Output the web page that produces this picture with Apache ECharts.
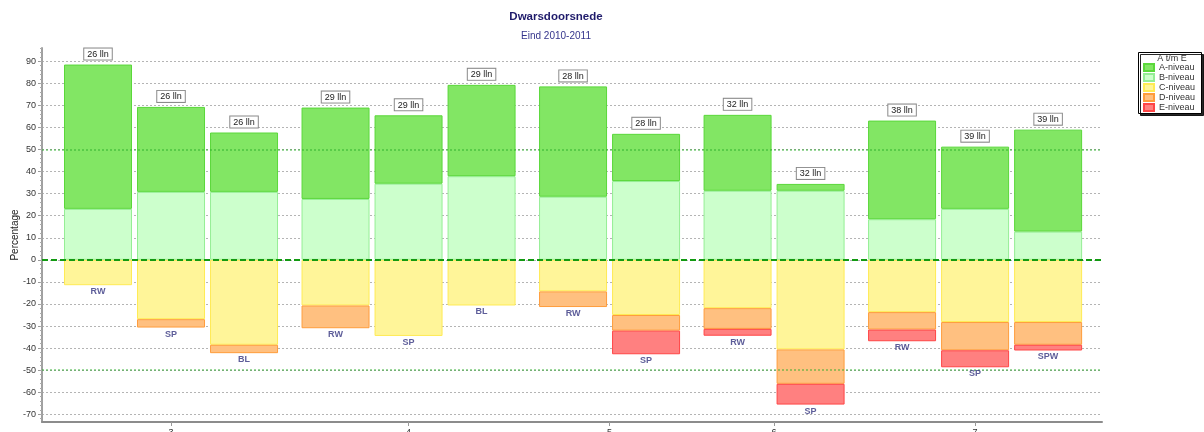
<!DOCTYPE html>
<html>
<head>
<meta charset="utf-8">
<title>Dwarsdoorsnede</title>
<script src="https://cdn.jsdelivr.net/npm/echarts@6/dist/echarts.min.js"></script>
<style>
    html, body { margin: 0; padding: 0; background: #fff; }
    #chart { width: 1204px; height: 432px; }
</style>
</head>
<body>
<div id="chart"></div>
<script>
// groepen op de x-as
var groepen = ['3', '4', '5', '6', '7'];
// per staaf: bij welke groep hij hoort, welk vak, hoeveel leerlingen
var staafGroep = [0, 0, 0, 1, 1, 1, 2, 2, 3, 3, 4, 4, 4];
var staafNaam = ['RW', 'SP', 'BL', 'RW', 'SP', 'BL', 'RW', 'SP', 'RW', 'SP', 'RW', 'SP', 'SPW'];
var aantalLln = ['26 lln', '26 lln', '26 lln', '29 lln', '29 lln', '29 lln', '28 lln', '28 lln',
    '32 lln', '32 lln', '38 lln', '39 lln', '39 lln'];
// percentages per niveau (C, D en E komen onder de nul-lijn)
var niveauA = [65.4, 38.5, 26.9, 41.4, 31.0, 41.4, 50.0, 21.4, 34.4, 3.1, 44.7, 28.2, 46.2];
var niveauB = [23.1, 30.8, 30.8, 27.6, 34.5, 37.9, 28.6, 35.7, 31.3, 31.3, 18.4, 23.1, 12.8];
var niveauC = [11.5, 26.9, 38.5, 20.7, 34.5, 20.7, 14.3, 25.0, 21.9, 40.6, 23.7, 28.2, 28.2];
var niveauD = [0, 3.8, 3.8, 10.3, 0, 0, 7.1, 7.1, 9.4, 15.6, 7.9, 12.8, 10.3];
var niveauE = [0, 0, 0, 0, 0, 0, 0, 10.7, 3.1, 9.4, 5.3, 7.7, 2.6];
// labels op de y-as
var yLabels = [-70, -60, -50, -40, -30, -20, -10, 0, 10, 20, 30, 40, 50, 60, 70, 80, 90];

var FONT = '"Liberation Sans", Arial, sans-serif';
var GROEP_RUIMTE = 0.253; // extra ruimte tussen groepen (in staafbreedtes)

// x-positie van elke staaf
var xPos = [];
for (var i = 0; i < staafGroep.length; i++) {
    xPos.push(i + GROEP_RUIMTE * staafGroep[i]);
}
// midden van elke groep, voor de labels op de x-as
var groepMidden = groepen.map(function (g, gi) {
    var som = 0, n = 0;
    for (var i = 0; i < staafGroep.length; i++) {
        if (staafGroep[i] == gi) { som += xPos[i]; n++; }
    }
    return som / n;
});
var kleineTicks = [];
for (var v = -72; v <= 96; v += 2) kleineTicks.push(v);

// eerst de waarde, dan de x-positie: zo stapelt echarts op de y-waarde
function reeks(waarden, teken) {
    return waarden.map(function (w, i) {
        return [w ? teken * w : null, xPos[i]];
    });
}
var onderkant = staafNaam.map(function (n, i) {
    return [xPos[i], -(niveauC[i] + niveauD[i] + niveauE[i])];
});

function staaf(naam, data, kleur, rand, extra) {
    var s = {
        name: naam,
        type: 'bar',
        stack: 'totaal',
        barWidth: 68,
        encode: { x: 1, y: 0 },
        data: data,
        itemStyle: { color: kleur, borderColor: rand, borderWidth: 1 }
    };
    for (var k in extra) s[k] = extra[k];
    return s;
}

var myChart = echarts.init(document.getElementById('chart'));
var option = {
    animation: false,
    title: [
        {
            text: 'Dwarsdoorsnede', left: 551, top: 6, textAlign: 'center',
            textStyle: { fontFamily: FONT, fontSize: 11.5, fontWeight: 'bold', color: '#1f1b6b' }
        },
        {
            text: 'Eind 2010-2011', left: 551, top: 26, textAlign: 'center',
            textStyle: { fontFamily: FONT, fontSize: 10, fontWeight: 'normal', color: '#35358c' }
        }
    ],
    legend: {
        orient: 'vertical',
        left: 1143,
        top: 62.5,
        itemWidth: 10,
        itemHeight: 7,
        itemGap: 0,
        padding: 0,
        icon: 'rect',
        data: ['A-niveau', 'B-niveau', 'C-niveau', 'D-niveau', 'E-niveau'],
        textStyle: { fontFamily: FONT, fontSize: 9, color: '#333', lineHeight: 10 },
        selectedMode: false
    },
    graphic: [
        {
            type: 'rect',
            z: 1,
            shape: { x: 1138.5, y: 52.5, width: 63, height: 61 },
            style: { fill: '#fff', stroke: '#000', lineWidth: 1, shadowColor: 'rgba(0,0,0,0.85)', shadowOffsetX: 2, shadowOffsetY: 2 }
        },
        {
            type: 'text',
            z: 10,
            x: 1172,
            y: 59,
            style: { text: 'A t/m E', font: '9px ' + FONT, fill: '#333', align: 'center', verticalAlign: 'middle' }
        }
    ],
    grid: { left: 42, right: 102, top: 48, bottom: 10, containLabel: false, outerBoundsMode: 'none' },
    xAxis: {
        type: 'value',
        min: -0.767,
        max: 13.75,
        splitLine: { show: false },
        axisLine: { show: true, onZero: false, lineStyle: { color: '#8c8c8c', width: 2 } },
        axisTick: { show: true, length: 4, customValues: groepMidden, lineStyle: { color: '#999' } },
        axisLabel: {
            customValues: groepMidden,
            margin: 6,
            fontFamily: FONT, fontSize: 9, color: '#333',
            formatter: function (v) {
                for (var g = 0; g < groepMidden.length; g++) {
                    if (Math.abs(groepMidden[g] - v) < 0.01) return groepen[g];
                }
                return '';
            }
        }
    },
    yAxis: [
        {
            type: 'value',
            min: -73.5,
            max: 96,
            name: 'Percentage',
            nameLocation: 'middle',
            nameGap: 22,
            nameMoveOverlap: false,
            nameTextStyle: { fontFamily: FONT, fontSize: 10, color: '#222' },
            axisLine: { show: true, onZero: false, lineStyle: { color: '#a0a0a0', width: 2 } },
            axisTick: { show: true, length: 4, customValues: yLabels, lineStyle: { color: '#999' } },
            axisLabel: { customValues: yLabels, margin: 6, fontFamily: FONT, fontSize: 9, color: '#333' },
            splitLine: { show: true, lineStyle: { color: '#b4b4b4', type: [2, 2], width: 1 } }
        },
        {
            type: 'value',
            min: -73.5,
            max: 96,
            position: 'left',
            axisLine: { show: false, onZero: false },
            axisTick: { show: true, length: 2, customValues: kleineTicks, lineStyle: { color: '#aaa' } },
            axisLabel: { show: false },
            splitLine: { show: false }
        }
    ],
    series: [
        staaf('B-niveau', reeks(niveauB, 1), '#ccffcc', '#95ee95'),
        staaf('A-niveau', reeks(niveauA, 1), '#82e664', '#5ad83a', {
            label: {
                show: true,
                position: 'top',
                distance: 5,
                formatter: function (p) { return aantalLln[p.dataIndex]; },
                backgroundColor: '#fff',
                borderColor: '#8a8a8a',
                borderWidth: 1,
                padding: [1, 3, 0, 3],
                lineHeight: 10,
                fontFamily: FONT,
                fontSize: 9,
                color: '#222'
            }
        }),
        staaf('C-niveau', reeks(niveauC, -1), '#fff599', '#ffeb55'),
        staaf('D-niveau', reeks(niveauD, -1), '#ffc080', '#ff9d3c'),
        staaf('E-niveau', reeks(niveauE, -1), '#ff8080', '#ff4646'),
        {
            name: 'vak',
            type: 'scatter',
            z: 5,
            symbolSize: 0,
            silent: true,
            data: onderkant,
            label: {
                show: true,
                position: 'bottom',
                distance: 2,
                formatter: function (p) { return staafNaam[p.dataIndex]; },
                fontFamily: FONT,
                fontSize: 9,
                fontWeight: 'bold',
                color: '#34347f'
            },
            markLine: {
                silent: true,
                symbol: 'none',
                label: { show: false },
                data: [
                    { yAxis: 0, lineStyle: { color: '#129a12', width: 2, type: [6, 3] } },
                    { yAxis: 50, lineStyle: { color: 'rgba(40,170,40,0.45)', width: 2, type: 'dotted' } },
                    { yAxis: -50, lineStyle: { color: 'rgba(40,170,40,0.45)', width: 2, type: 'dotted' } }
                ]
            }
        }
    ]
};
myChart.setOption(option);
</script>
</body>
</html>
